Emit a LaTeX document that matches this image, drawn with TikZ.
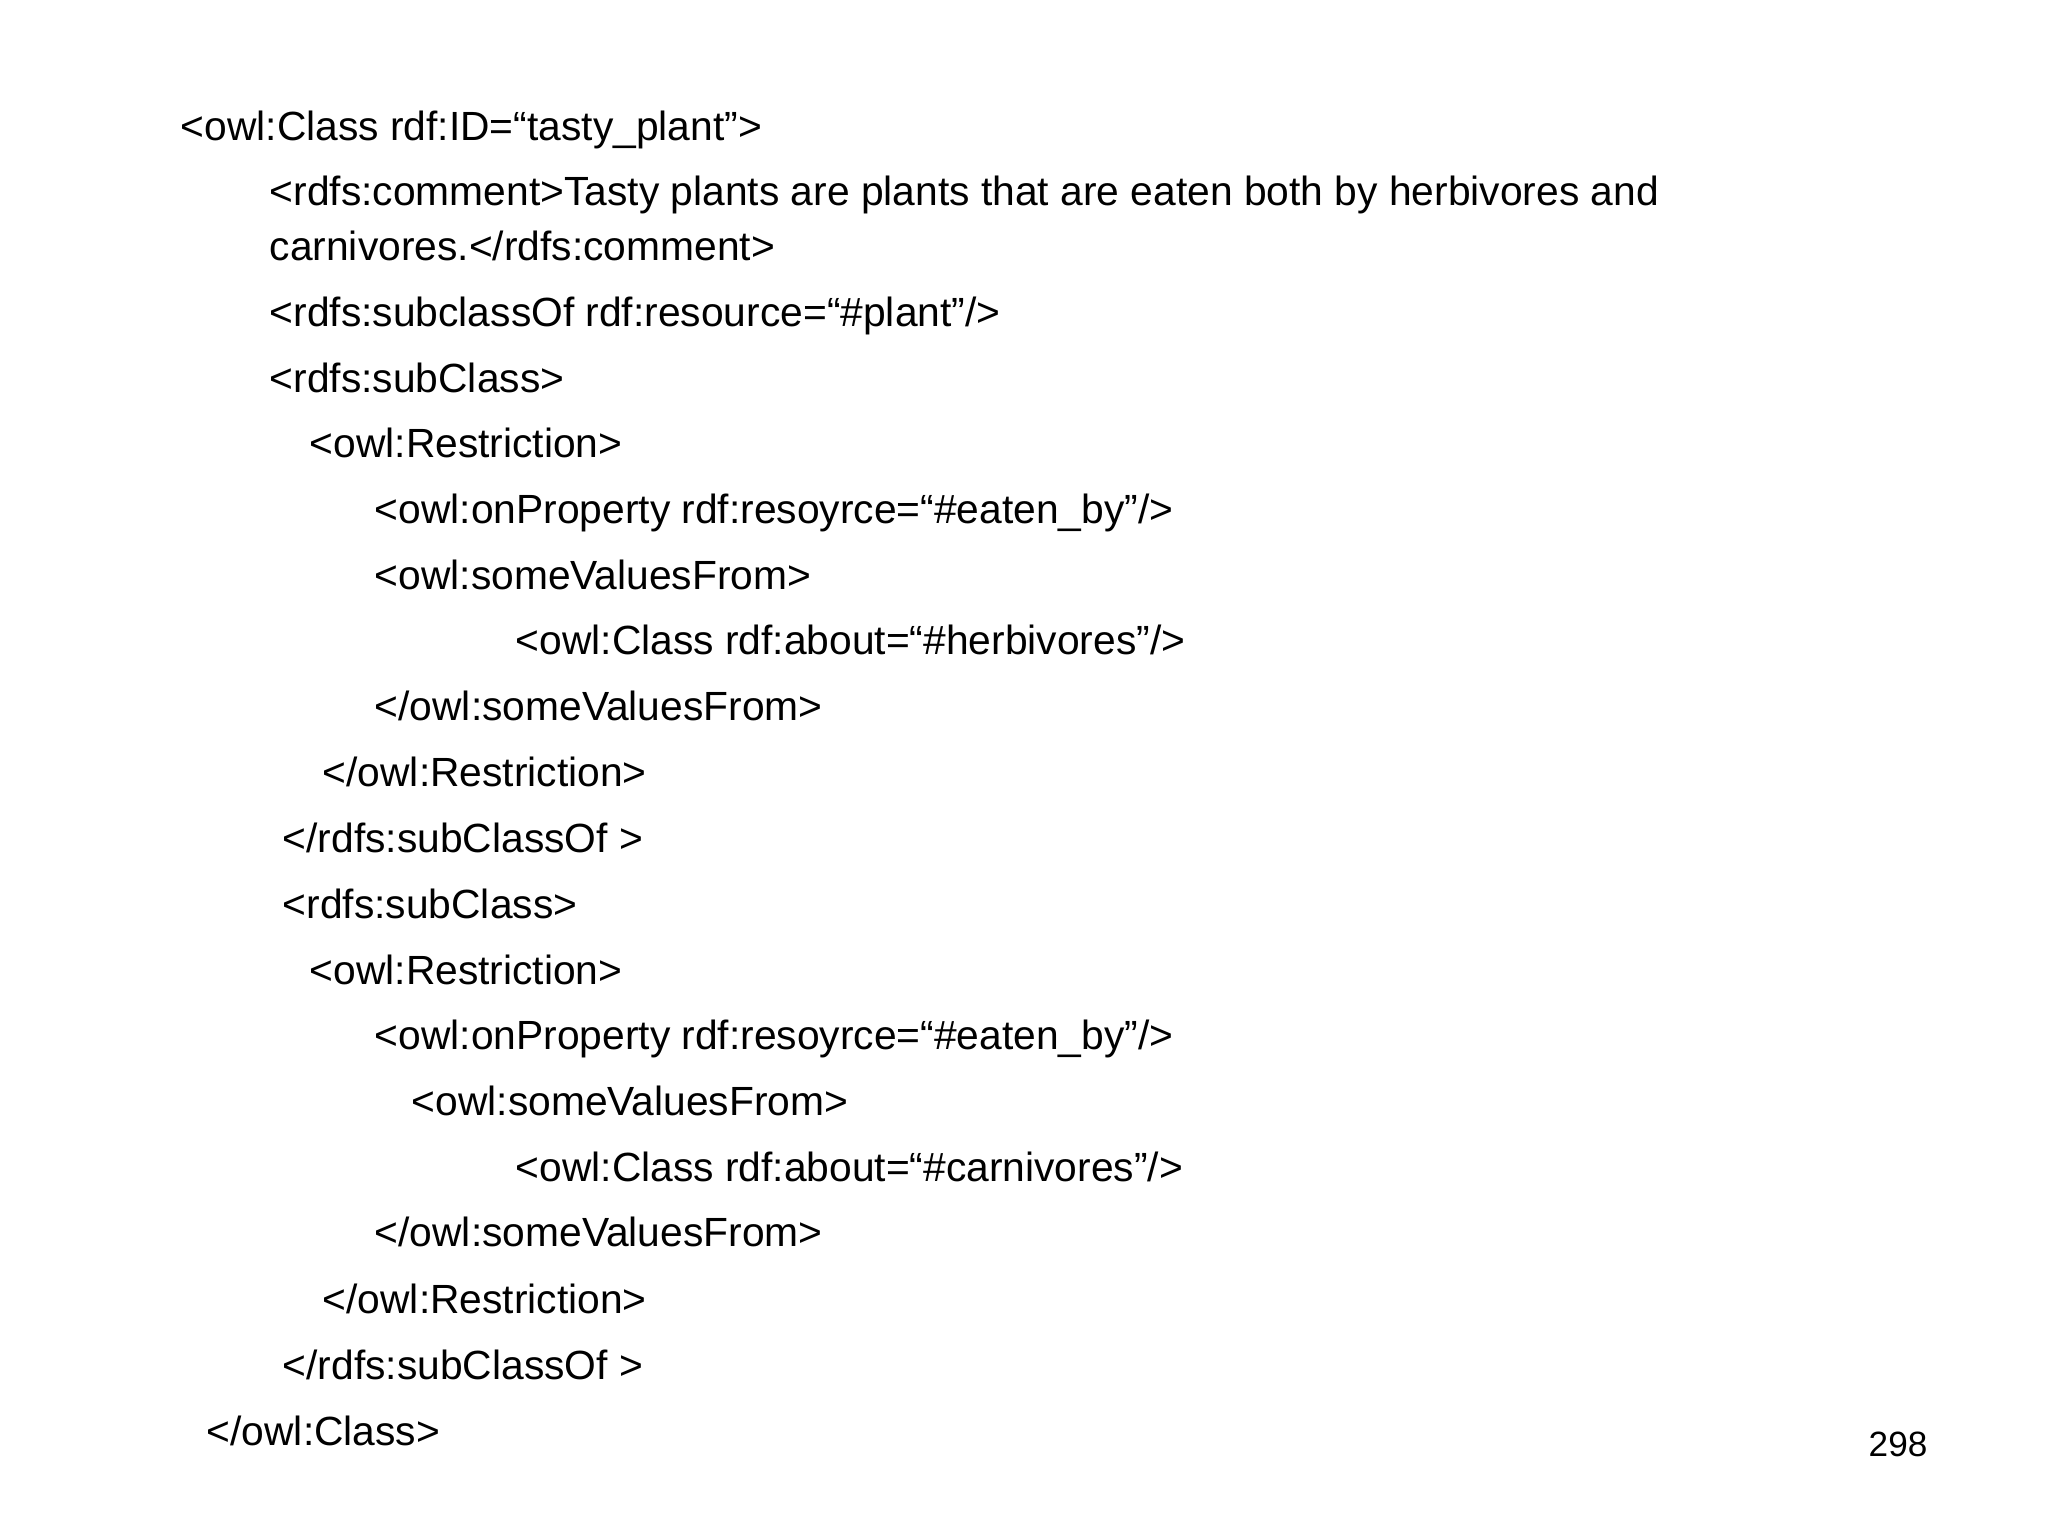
\documentclass[tikz,border=0pt]{standalone}
\usepackage{fontspec}
\setmainfont{Liberation Sans}
\begin{document}
\begin{tikzpicture}[x=1cm,y=1cm,
  code/.style={anchor=base west,inner sep=0pt,font=\fontsize{11.6pt}{14pt}\selectfont},
  pnum/.style={anchor=base west,inner sep=0pt,font=\fontsize{10pt}{12pt}\selectfont}]
\useasboundingbox (0,0) rectangle (20.48,15.36);
\node[code] (l1) at (1.80,13.955) {<owl:Class rdf:ID=“tasty\_plant”>};
\node[code] (l2) at (2.69,13.30) {<rdfs:comment>Tasty plants are plants that are eaten both by herbivores and};
\node[code] (l2b) at (2.69,12.75) {carnivores.</rdfs:comment>};
\node[code] (l3) at (2.69,12.09) {<rdfs:subclassOf rdf:resource=“\#plant”/>};
\node[code] (l4) at (2.69,11.43) {<rdfs:subClass>};
\node[code] (l5) at (3.09,10.78) {<owl:Restriction>};
\node[code] (l6) at (3.74,10.12) {<owl:onProperty rdf:resoyrce=“\#eaten\_by”/>};
\node[code] (l7) at (3.74,9.46) {<owl:someValuesFrom>};
\node[code] (l8) at (5.15,8.81) {<owl:Class rdf:about=“\#herbivores”/>};
\node[code] (l9) at (3.74,8.15) {</owl:someValuesFrom>};
\node[code] (l10) at (3.22,7.49) {</owl:Restriction>};
\node[code] (l11) at (2.82,6.83) {</rdfs:subClassOf >};
\node[code] (l12) at (2.82,6.17) {<rdfs:subClass>};
\node[code] (l13) at (3.09,5.51) {<owl:Restriction>};
\node[code] (l14) at (3.74,4.86) {<owl:onProperty rdf:resoyrce=“\#eaten\_by”/>};
\node[code] (l15) at (4.11,4.20) {<owl:someValuesFrom>};
\node[code] (l16) at (5.15,3.54) {<owl:Class rdf:about=“\#carnivores”/>};
\node[code] (l17) at (3.74,2.89) {</owl:someValuesFrom>};
\node[code] (l18) at (3.22,2.22) {</owl:Restriction>};
\node[code] (l19) at (2.82,1.56) {</rdfs:subClassOf >};
\node[code] (l20) at (2.06,0.90) {</owl:Class>};
\node[pnum] (pg) at (18.68,0.79) {298};
\end{tikzpicture}
\end{document}
